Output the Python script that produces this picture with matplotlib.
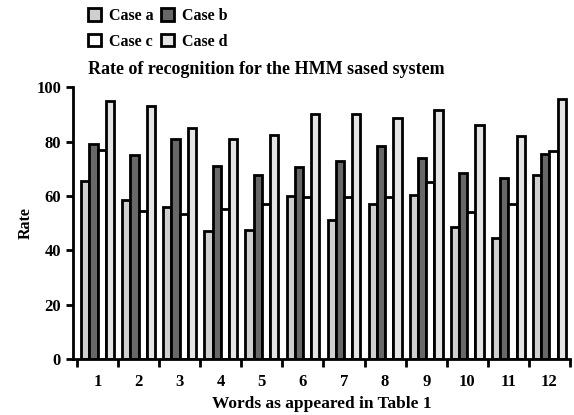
import matplotlib.pyplot as plt
import numpy as np

plt.rcParams['font.family'] = ['Liberation Serif', 'DejaVu Serif']
plt.rcParams['font.weight'] = 'bold'

words = ['1', '2', '3', '4', '5', '6', '7', '8', '9', '10', '11', '12']
case_a = [65.5, 58.5, 56, 47, 47.5, 60, 51, 57, 60.5, 48.5, 44.5, 67.5]
case_b = [79, 75, 81, 71, 67.5, 70.5, 73, 78.5, 74, 68.5, 66.5, 75.5]
case_c = [77, 54.5, 53.5, 55, 57, 59.5, 59.5, 59.5, 65, 54, 57, 76.5]
case_d = [95, 93, 85, 81, 82.5, 90, 90, 88.5, 91.5, 86, 82, 95.5]

fig = plt.figure(figsize=(5.74, 4.15), dpi=100)
ax = fig.add_axes([0.127, 0.135, 0.866, 0.655])

x = np.arange(1, len(words) + 1)
w = 0.2
series = [(case_a, '#cfcfcf', 'Case a'), (case_b, '#686868', 'Case b'),
          (case_c, 'white', 'Case c'), (case_d, '#e4e4e4', 'Case d')]
offs = [-0.3, -0.1, 0.1, 0.3]
handles = []
for (vals, col, lab), o in zip(series, offs):
    b = ax.bar(x + o, vals, w, color=col, edgecolor='black', linewidth=2, label=lab)
    handles.append(b)

ax.set_xlim(0.4, 12.5)
ax.set_ylim(0, 100)
ax.set_yticks([0, 20, 40, 60, 80, 100])
ax.set_xticks(x)
ax.set_xticklabels(words)
ax.set_xticks(np.arange(0.5, 12.6, 1), minor=True)
ax.tick_params(axis='x', which='major', length=0, labelsize=12, pad=11)
ax.tick_params(axis='x', which='minor', length=6, width=2, direction='out')
ax.tick_params(axis='y', length=5, width=2, labelsize=12)
for s in ['top', 'right']:
    ax.spines[s].set_visible(False)
for s in ['left', 'bottom']:
    ax.spines[s].set_linewidth(2)

ax.set_ylabel('Rate', fontsize=11.5, fontweight='bold', labelpad=2)
ax.set_xlabel('Words as appeared in Table 1', fontsize=12.5, fontweight='bold', labelpad=4)

# row-wise order: a b / c d
order = [0, 2, 1, 3]
fig.legend(handles=[handles[i] for i in order],
           labels=[series[i][2] for i in order],
           ncol=2, loc='upper left', bbox_to_anchor=(0.128, 1.015),
           frameon=False, handlelength=0.8, handleheight=0.8,
           handletextpad=0.5, columnspacing=0.5, labelspacing=0.6,
           prop={'size': 11.5, 'weight': 'bold'})
fig.text(0.153, 1 - 70 / 415, 'Rate of recognition for the HMM sased system',
         fontsize=13, fontweight='bold', va='center')

fig.savefig('out.png', dpi=100)
